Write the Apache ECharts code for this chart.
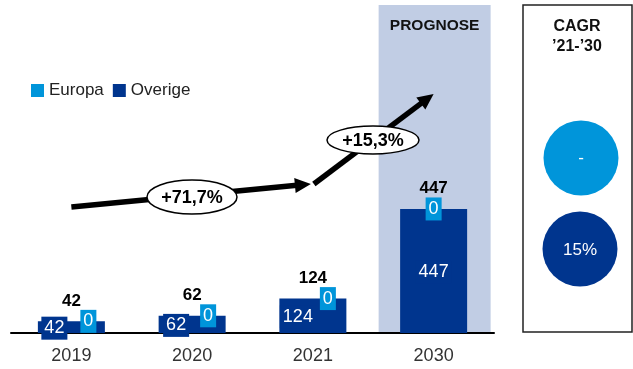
<!DOCTYPE html>
<html><head><meta charset="utf-8">
<script src="https://cdn.jsdelivr.net/npm/echarts@6/dist/echarts.min.js"></script>
<style>html,body{margin:0;padding:0;background:#fff}#c{width:633px;height:369px}</style>
</head><body><div id="c"></div>
<script>
var categories = ['2019', '2020', '2021', '2030'];
var overige = [42, 62, 124, 447];
var europa = [0, 0, 0, 0];
var growthLabels = ['+71,7%', '+15,3%'];
var cagrEuropa = '-';
var cagrOverige = '15%';

var C_LIGHT = '#0095da';
var C_DARK = '#00358e';
var FONT = '"Liberation Sans", Arial, sans-serif';
var totals = overige.map(function (v, i) { return v + europa[i]; });

var chart = echarts.init(document.getElementById('c'));
var labelShift = [17, 16, 15, 0];

chart.setOption({
  animation: false,
  textStyle: { fontFamily: FONT },
  legend: {
    data: ['Europa', 'Overige'], left: 26, top: 77, itemWidth: 13, itemHeight: 13, itemGap: 9,
    icon: 'rect', textStyle: { fontSize: 17, color: '#222', fontFamily: FONT }
  },
  grid: { left: 11, right: 139, top: 5, bottom: 36 },
  xAxis: {
    type: 'category', data: categories,
    axisLine: { lineStyle: { color: '#000', width: 2 } },
    axisTick: { show: false },
    axisLabel: { fontSize: 18, color: '#333', margin: 14, fontFamily: FONT }
  },
  yAxis: { type: 'value', min: 0, max: 1182, show: false, splitLine: { show: false } },
  series: [
    {
      name: 'Overige', type: 'bar', stack: 's', barWidth: 67, z: 3,
      itemStyle: { color: C_DARK },
      data: overige.map(function (v, i) {
        return { value: v, label: { offset: [-labelShift[i], 1] } };
      }),
      label: {
        show: true, position: 'inside', color: '#fff', fontSize: 18, fontFamily: FONT,
        backgroundColor: C_DARK, padding: [3, 3, 2, 3]
      }
    },
    {
      name: 'Europa', type: 'bar', stack: 's', barWidth: 67, z: 4,
      itemStyle: { color: C_LIGHT },
      data: europa.map(function (v, i) {
        return { value: v, label: { offset: [labelShift[i], 0] } };
      }),
      label: {
        show: true, position: 'inside', color: '#fff', fontSize: 18, fontFamily: FONT,
        backgroundColor: C_LIGHT, padding: [3, 3, 2, 3]
      }
    },
    {
      name: 'Total', type: 'bar', stack: 's', barWidth: 67, z: 5, silent: true,
      itemStyle: { color: 'transparent' },
      data: totals.map(function () { return 0; }),
      label: {
        show: true, position: 'top', distance: 12, color: '#000', fontSize: 17,
        fontWeight: 'bold', fontFamily: FONT,
        formatter: function (p) { return String(totals[p.dataIndex]); }
      }
    }
  ]
});

function px(i) { return chart.convertToPixel({ xAxisIndex: 0 }, categories[i]); }
var x0 = px(0), x2 = px(2), x3 = px(3);

function arrow(x1, y1, x2, y2) {
  var dx = x2 - x1, dy = y2 - y1, L = Math.sqrt(dx * dx + dy * dy);
  var ux = dx / L, uy = dy / L, hl = 16, hw = 7.5;
  var bx = x2 - ux * hl, by = y2 - uy * hl;
  return [
    { type: 'line', z: 50, shape: { x1: x1, y1: y1, x2: bx + ux * 2, y2: by + uy * 2 }, style: { stroke: '#000', lineWidth: 5.5 } },
    { type: 'polygon', z: 50, shape: { points: [[x2, y2], [bx - uy * hw, by + ux * hw], [bx + uy * hw, by - ux * hw]] }, style: { fill: '#000' } }
  ];
}
function bubble(cx, cy, rx, ry, t) {
  return [
    { type: 'ellipse', z: 60, shape: { cx: cx, cy: cy, rx: rx, ry: ry }, style: { fill: '#fff', stroke: '#000', lineWidth: 1.5 } },
    { type: 'text', z: 61, x: cx, y: cy + 1, style: { text: t, fill: '#000', font: 'bold 18px ' + FONT, textAlign: 'center', textVerticalAlign: 'middle' } }
  ];
}

var g = [
  { type: 'rect', z: -10, shape: { x: x3 - 55, y: 5, width: 112, height: 328 }, style: { fill: '#c1cde4' } },
  { type: 'text', z: 1, x: x3 + 1, y: 26, style: { text: 'PROGNOSE', fill: '#111', font: 'bold 15.5px ' + FONT, textAlign: 'center', textVerticalAlign: 'middle' } },
  { type: 'rect', z: 1, shape: { x: 523, y: 5, width: 109, height: 327 }, style: { fill: '#fff', stroke: '#222', lineWidth: 1.5 } },
  { type: 'text', z: 2, x: 577, y: 27, style: { text: 'CAGR', fill: '#111', font: 'bold 16px ' + FONT, textAlign: 'center', textVerticalAlign: 'middle' } },
  { type: 'text', z: 2, x: 577, y: 47, style: { text: '\u201921-\u201930', fill: '#111', font: 'bold 16px ' + FONT, textAlign: 'center', textVerticalAlign: 'middle' } },
  { type: 'circle', z: 2, shape: { cx: 581, cy: 158, r: 37.5 }, style: { fill: C_LIGHT } },
  { type: 'text', z: 3, x: 581, y: 158, style: { text: cagrEuropa, fill: '#fff', font: '17px ' + FONT, textAlign: 'center', textVerticalAlign: 'middle' } },
  { type: 'circle', z: 2, shape: { cx: 580, cy: 249, r: 37.5 }, style: { fill: C_DARK } },
  { type: 'text', z: 3, x: 580, y: 250, style: { text: cagrOverige, fill: '#fff', font: '17px ' + FONT, textAlign: 'center', textVerticalAlign: 'middle' } }
];
g = g.concat(arrow(x0, 207, x2 - 2, 184));
g = g.concat(arrow(x2 + 1, 184, x3, 94));
g = g.concat(bubble(192, 197, 45, 17, growthLabels[0]));
g = g.concat(bubble(373, 140, 46, 14, growthLabels[1]));

chart.setOption({ graphic: g });
</script>
</body></html>
